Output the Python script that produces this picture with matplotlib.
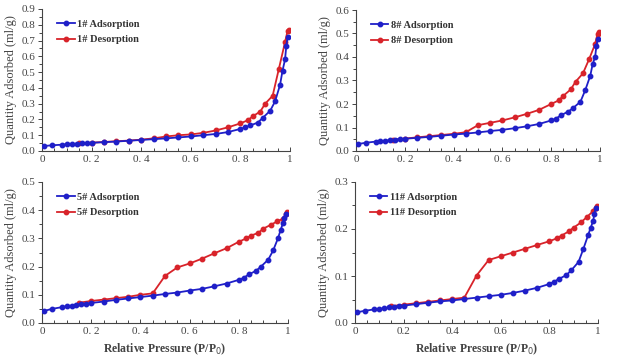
import matplotlib.pyplot as plt
from matplotlib.ticker import MultipleLocator

plt.rcParams['font.family'] = ['Liberation Serif', 'DejaVu Serif']

# relative pressure points
ads_p = [0.01, 0.04, 0.08, 0.10, 0.12, 0.14, 0.16, 0.18, 0.20, 0.25, 0.30, 0.35, 0.40, 0.45,
         0.50, 0.55, 0.60, 0.65, 0.70, 0.75, 0.80, 0.82, 0.84, 0.87, 0.89, 0.92, 0.94, 0.96,
         0.97, 0.98, 0.985, 0.99]
des_p = [0.995, 0.99, 0.98, 0.955, 0.93, 0.90, 0.88, 0.85, 0.83, 0.80, 0.75, 0.70, 0.65,
         0.60, 0.55, 0.50, 0.45, 0.40, 0.35, 0.30, 0.25, 0.20, 0.15]

ads_1 = [0.032, 0.036, 0.040, 0.042, 0.044, 0.046, 0.048, 0.050, 0.052, 0.056, 0.060, 0.065,
         0.070, 0.075, 0.080, 0.086, 0.092, 0.100, 0.108, 0.120, 0.140, 0.150, 0.162, 0.180,
         0.210, 0.255, 0.315, 0.420, 0.510, 0.580, 0.665, 0.720]
des_1 = [0.770, 0.760, 0.690, 0.520, 0.350, 0.300, 0.250, 0.220, 0.195, 0.175, 0.150, 0.130,
         0.115, 0.105, 0.100, 0.092, 0.080, 0.072, 0.066, 0.062, 0.057, 0.053, 0.048]

ads_8 = [0.030, 0.035, 0.040, 0.042, 0.044, 0.046, 0.048, 0.050, 0.052, 0.056, 0.060, 0.065,
         0.070, 0.074, 0.079, 0.085, 0.090, 0.097, 0.105, 0.115, 0.130, 0.138, 0.152, 0.168,
         0.183, 0.210, 0.260, 0.320, 0.370, 0.400, 0.445, 0.475]
des_8 = [0.505, 0.500, 0.455, 0.390, 0.330, 0.295, 0.262, 0.235, 0.215, 0.200, 0.175, 0.158,
         0.143, 0.130, 0.120, 0.110, 0.080, 0.073, 0.068, 0.063, 0.058, 0.053, 0.048]

ads_5 = [0.043, 0.050, 0.056, 0.059, 0.062, 0.065, 0.067, 0.069, 0.071, 0.076, 0.082, 0.087,
         0.092, 0.097, 0.103, 0.108, 0.115, 0.121, 0.130, 0.140, 0.153, 0.160, 0.172, 0.185,
         0.200, 0.225, 0.258, 0.302, 0.330, 0.355, 0.372, 0.385]
des_5 = [0.395, 0.385, 0.370, 0.360, 0.348, 0.335, 0.320, 0.310, 0.300, 0.288, 0.265, 0.247,
         0.228, 0.211, 0.197, 0.167, 0.105, 0.100, 0.093, 0.088, 0.083, 0.078, 0.072]

ads_11 = [0.023, 0.026, 0.029, 0.030, 0.031, 0.033, 0.034, 0.036, 0.037, 0.040, 0.043, 0.046,
          0.048, 0.051, 0.054, 0.057, 0.060, 0.064, 0.069, 0.075, 0.083, 0.088, 0.094, 0.102,
          0.112, 0.130, 0.158, 0.188, 0.203, 0.217, 0.232, 0.245]
des_11 = [0.250, 0.245, 0.238, 0.226, 0.214, 0.203, 0.195, 0.186, 0.180, 0.174, 0.166, 0.158,
          0.150, 0.142, 0.134, 0.101, 0.054, 0.051, 0.048, 0.045, 0.042, 0.039, 0.036]

samples = ['1#', '8#', '5#', '11#']
ads_all = [ads_1, ads_8, ads_5, ads_11]
des_all = [des_1, des_8, des_5, des_11]
ymax = [0.9, 0.6, 0.5, 0.3]
xlabels = [['0', '0. 2', '0. 4', '0. 6', '0. 8', '1'],
           ['0', '0. 2', '0. 4', '0. 6', '0. 8', '1'],
           ['0', '0. 2', '0. 4', '0. 6', '0. 8', '1'],
           ['0', '0.2', '0.4', '0.6', '0.8', '1']]

# axes rectangles in pixels (618x363)
W, H = 618, 363
boxes = [(42, 9, 290, 151), (356, 10, 600, 151), (42, 182, 288, 323), (355, 182, 598, 323)]

blue = '#1f1fc8'
red = '#d8232a'
grey = '#444444'

fig = plt.figure(figsize=(6.18, 3.63), dpi=100)
for i in range(4):
    x0, y0, x1, y1 = boxes[i]
    ax = fig.add_axes([x0 / W, 1 - y1 / H, (x1 - x0) / W, (y1 - y0) / H])
    ax.plot(ads_p, ads_all[i], '-o', color=blue, ms=3.2, lw=1.3,
            label=samples[i] + ' Adsorption', zorder=3)
    ax.plot(des_p, des_all[i], '-o', color=red, ms=3.2, lw=1.3,
            label=samples[i] + ' Desorption', zorder=2)
    ax.set_xlim(0, 1)
    ax.set_ylim(0, ymax[i])
    ax.set_xticks([0, 0.2, 0.4, 0.6, 0.8, 1.0])
    ax.set_xticklabels(xlabels[i])
    ax.xaxis.set_minor_locator(MultipleLocator(0.05))
    ax.yaxis.set_major_locator(MultipleLocator(0.1))
    ax.yaxis.set_minor_locator(MultipleLocator(0.05))
    ax.set_yticklabels(['0'] + ['%.1f' % v for v in ax.get_yticks()[1:]])
    for s in ['top', 'right']:
        ax.spines[s].set_visible(False)
    for s in ['left', 'bottom']:
        ax.spines[s].set_color(grey)
        ax.spines[s].set_linewidth(0.8)
    ax.tick_params(axis='x', which='both', direction='in', length=3, width=0.7,
                   colors=grey, labelsize=8, pad=3)
    ax.tick_params(axis='x', which='minor', length=2)
    ax.tick_params(axis='y', which='both', direction='out', length=3, width=0.7,
                   colors=grey, labelsize=8, pad=2)
    ax.tick_params(axis='y', which='minor', length=2)
    ax.set_ylabel('Quantity Adsorbed (ml/g)', fontsize=9, color=grey, labelpad=3)
    if i >= 2:
        ax.set_xlabel('Relative Pressure (P/P$_0$)', fontsize=8.5, fontweight='bold',
                      color=grey, labelpad=4)
    leg = ax.legend(loc='upper left', bbox_to_anchor=(0.035, 0.97), frameon=False,
                    prop={'weight': 'bold', 'size': 7.5}, handlelength=1.7,
                    handletextpad=0.2, labelspacing=0.6, borderaxespad=0.2)
    for t in leg.get_texts():
        t.set_color('#333333')

fig.savefig('out.png', dpi=100)
